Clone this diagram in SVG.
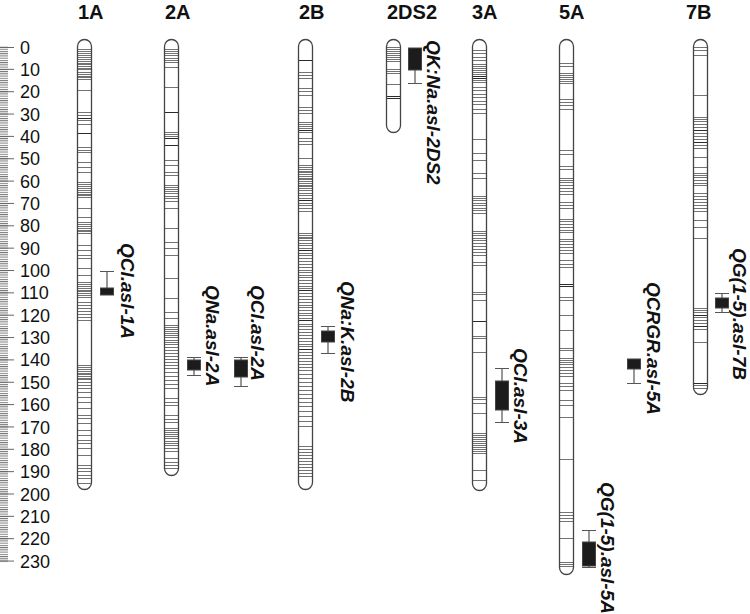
<svg xmlns="http://www.w3.org/2000/svg" width="750" height="614" viewBox="0 0 750 614">
<style>
.ttl{font-family:"Liberation Sans",Arial,sans-serif;font-weight:bold;font-size:20px;fill:#111}
.ax{font-family:"Liberation Sans",Arial,sans-serif;font-size:18px;fill:#111}
.ql{font-family:"Liberation Sans",Arial,sans-serif;font-weight:bold;font-style:italic;font-size:19px;fill:#111}
.chr{fill:none;stroke:#444;stroke-width:1.3}
.bg{fill:#fff}
.b{stroke:#737373;stroke-width:1;fill:none}
.d{stroke:#2a2a2a;stroke-width:1.2;fill:none}
.wh{stroke:#555;stroke-width:1.2;fill:none}
.box{fill:#1c1c1c;stroke:#444;stroke-width:1}
.tk{stroke:#666;stroke-width:1;fill:none}
</style>
<defs>
<pattern id="mt" x="0" y="46.5" width="10" height="2.235" patternUnits="userSpaceOnUse"><rect x="0" y="0" width="8" height="1" fill="#777"/></pattern>
</defs>
<g id="axis">
<rect x="0" y="46.5" width="8" height="516" fill="url(#mt)"/>
<path class="tk" d="M0 47.5h14M0 69.35h14M0 91.7h14M0 114.05h14M0 136.4h14M0 158.75h14M0 181.1h14M0 203.45h14M0 225.8h14M0 248.15h14M0 270.5h14M0 292.85h14M0 315.2h14M0 337.55h14M0 359.9h14M0 382.25h14M0 404.6h14M0 426.95h14M0 449.3h14M0 471.65h14M0 494h14M0 516.35h14M0 538.7h14M0 561.05h14"/>
<text class="ax" x="20" y="53.5">0</text>
<text class="ax" x="20" y="75.9">10</text>
<text class="ax" x="20" y="98.2">20</text>
<text class="ax" x="20" y="120.6">30</text>
<text class="ax" x="20" y="142.9">40</text>
<text class="ax" x="20" y="165.3">50</text>
<text class="ax" x="20" y="187.6">60</text>
<text class="ax" x="20" y="210">70</text>
<text class="ax" x="20" y="232.3">80</text>
<text class="ax" x="20" y="254.7">90</text>
<text class="ax" x="20" y="277">100</text>
<text class="ax" x="20" y="299.4">110</text>
<text class="ax" x="20" y="321.7">120</text>
<text class="ax" x="20" y="344.1">130</text>
<text class="ax" x="20" y="366.4">140</text>
<text class="ax" x="20" y="388.8">150</text>
<text class="ax" x="20" y="411.1">160</text>
<text class="ax" x="20" y="433.5">170</text>
<text class="ax" x="20" y="455.8">180</text>
<text class="ax" x="20" y="478.2">190</text>
<text class="ax" x="20" y="500.5">200</text>
<text class="ax" x="20" y="522.9">210</text>
<text class="ax" x="20" y="545.2">220</text>
<text class="ax" x="20" y="567.6">230</text>
</g>
<g id="chr-1A">
<text class="ttl" x="78" y="19">1A</text>
<rect class="bg" x="77.5" y="39.5" width="14" height="450" rx="7"/>
<path class="b" d="M78 49.5h13M78 51.5h13M78 53.5h13M78 55.5h13M78 57.5h13M78 59.5h13M78 61.5h13M78 63.5h13M78 64.5h13M78 66.5h13M78 68.5h13M78 69.5h13M78 72.5h13M78 74.5h13M78 76.5h13M78 77.5h13M78 79.5h13M78 90.5h13M78 112.5h13M78 115.5h13M78 120.5h13M78 124.5h13M78 147.5h13M78 150.5h13M78 152.5h13M78 162.5h13M78 167.5h13M78 172.5h13M78 182.5h13M78 184.5h13M78 186.5h13M78 188.5h13M78 190.5h13M78 192.5h13M78 194.5h13M78 195.5h13M78 197.5h13M78 208.5h13M78 217.5h13M78 222.5h13M78 224.5h13M78 226.5h13M78 228.5h13M78 230.5h13M78 231.5h13M78 233.5h13M78 245.5h13M78 250.5h13M78 255.5h13M78 258.5h13M78 268.5h13M78 275.5h13M78 282.5h13M78 284.5h13M78 286.5h13M78 288.5h13M78 290.5h13M78 291.5h13M78 293.5h13M78 295.5h13M78 297.5h13M78 302.5h13M78 305.5h13M78 308.5h13M78 311.5h13M78 314.5h13M78 317.5h13M78 320.5h13M78 365.5h13M78 367.5h13M78 369.5h13M78 371.5h13M78 373.5h13M78 374.5h13M78 376.5h13M78 378.5h13M78 379.5h13M78 382.5h13M78 385.5h13M78 388.5h13M78 392.5h13M78 397.5h13M78 402.5h13M78 408.5h13M78 415.5h13M78 418.5h13M78 423.5h13M78 430.5h13M78 435.5h13M78 440.5h13M78 443.5h13M78 448.5h13M78 455.5h13M78 465.5h13M78 468.5h13M78 471.5h13M78 475.5h13M78 478.5h13M78 483.5h13"/>
<path class="d" d="M78 118.5h13M78 133.5h13"/>
<rect class="chr" x="77.5" y="39.5" width="14" height="450" rx="7"/>
</g>
<g id="chr-2A">
<text class="ttl" x="165" y="19">2A</text>
<rect class="bg" x="164.5" y="39.5" width="14" height="436" rx="7"/>
<path class="b" d="M165 49.5h13M165 51.5h13M165 53.5h13M165 55.5h13M165 58.5h13M165 60.5h13M165 62.5h13M165 67.5h13M165 87.5h13M165 132.5h13M165 134.5h13M165 136.5h13M165 160.5h13M165 165.5h13M165 172.5h13M165 175.5h13M165 185.5h13M165 187.5h13M165 189.5h13M165 191.5h13M165 193.5h13M165 196.5h13M165 198.5h13M165 201.5h13M165 208.5h13M165 228.5h13M165 242.5h13M165 248.5h13M165 255.5h13M165 278.5h13M165 298.5h13M165 312.5h13M165 318.5h13M165 325.5h13M165 327.5h13M165 329.5h13M165 331.5h13M165 333.5h13M165 335.5h13M165 337.5h13M165 340.5h13M165 342.5h13M165 344.5h13M165 347.5h13M165 350.5h13M165 353.5h13M165 356.5h13M165 359.5h13M165 362.5h13M165 365.5h13M165 368.5h13M165 372.5h13M165 376.5h13M165 380.5h13M165 384.5h13M165 388.5h13M165 398.5h13M165 402.5h13M165 405.5h13M165 415.5h13M165 419.5h13M165 422.5h13M165 428.5h13M165 430.5h13M165 432.5h13M165 434.5h13M165 436.5h13M165 438.5h13M165 441.5h13M165 443.5h13M165 445.5h13M165 448.5h13M165 451.5h13M165 458.5h13M165 462.5h13M165 465.5h13M165 468.5h13"/>
<path class="d" d="M165 112.5h13M165 138.5h13M165 145.5h13"/>
<rect class="chr" x="164.5" y="39.5" width="14" height="436" rx="7"/>
</g>
<g id="chr-2B">
<text class="ttl" x="299" y="19">2B</text>
<rect class="bg" x="298.5" y="39.5" width="14" height="450" rx="7"/>
<path class="b" d="M299 72.5h13M299 75.5h13M299 78.5h13M299 88.5h13M299 91.5h13M299 95.5h13M299 107.5h13M299 110.5h13M299 113.5h13M299 122.5h13M299 124.5h13M299 126.5h13M299 128.5h13M299 132.5h13M299 138.5h13M299 141.5h13M299 144.5h13M299 158.5h13M299 165.5h13M299 167.5h13M299 169.5h13M299 171.5h13M299 172.5h13M299 174.5h13M299 176.5h13M299 178.5h13M299 179.5h13M299 181.5h13M299 183.5h13M299 185.5h13M299 186.5h13M299 188.5h13M299 190.5h13M299 193.5h13M299 195.5h13M299 198.5h13M299 203.5h13M299 205.5h13M299 208.5h13M299 211.5h13M299 233.5h13M299 235.5h13M299 237.5h13M299 238.5h13M299 240.5h13M299 243.5h13M299 245.5h13M299 248.5h13M299 253.5h13M299 255.5h13M299 258.5h13M299 261.5h13M299 264.5h13M299 267.5h13M299 270.5h13M299 272.5h13M299 275.5h13M299 277.5h13M299 280.5h13M299 283.5h13M299 286.5h13M299 288.5h13M299 293.5h13M299 296.5h13M299 299.5h13M299 302.5h13M299 305.5h13M299 307.5h13M299 310.5h13M299 313.5h13M299 315.5h13M299 318.5h13M299 324.5h13M299 326.5h13M299 329.5h13M299 332.5h13M299 335.5h13M299 338.5h13M299 341.5h13M299 344.5h13M299 346.5h13M299 352.5h13M299 355.5h13M299 358.5h13M299 361.5h13M299 364.5h13M299 367.5h13M299 370.5h13M299 374.5h13M299 378.5h13M299 382.5h13M299 386.5h13M299 390.5h13M299 394.5h13M299 398.5h13M299 402.5h13M299 406.5h13M299 411.5h13M299 416.5h13M299 421.5h13M299 426.5h13M299 446.5h13M299 449.5h13M299 452.5h13M299 455.5h13M299 458.5h13M299 461.5h13M299 464.5h13M299 467.5h13M299 470.5h13M299 473.5h13M299 476.5h13"/>
<path class="d" d="M299 60.5h13M299 130.5h13M299 200.5h13M299 250.5h13M299 290.5h13M299 320.5h13M299 349.5h13"/>
<rect class="chr" x="298.5" y="39.5" width="14" height="450" rx="7"/>
</g>
<g id="chr-2DS2">
<text class="ttl" x="387" y="19">2DS2</text>
<rect class="bg" x="386.5" y="39.5" width="14" height="93" rx="7"/>
<path class="b" d="M387 47.5h13M387 49.5h13M387 51.5h13M387 53.5h13M387 55.5h13M387 57.5h13M387 59.5h13M387 61.5h13M387 69.5h13M387 71.5h13M387 73.5h13M387 84.5h13"/>
<path class="d" d="M387 96.5h13M387 98.5h13"/>
<rect class="chr" x="386.5" y="39.5" width="14" height="93" rx="7"/>
</g>
<g id="chr-3A">
<text class="ttl" x="472" y="19">3A</text>
<rect class="bg" x="472.5" y="39.5" width="14" height="451" rx="7"/>
<path class="b" d="M473 50.5h13M473 53.5h13M473 57.5h13M473 60.5h13M473 64.5h13M473 66.5h13M473 68.5h13M473 70.5h13M473 72.5h13M473 74.5h13M473 80.5h13M473 82.5h13M473 87.5h13M473 90.5h13M473 94.5h13M473 97.5h13M473 101.5h13M473 104.5h13M473 109.5h13M473 113.5h13M473 139.5h13M473 153.5h13M473 160.5h13M473 173.5h13M473 178.5h13M473 196.5h13M473 198.5h13M473 200.5h13M473 203.5h13M473 205.5h13M473 208.5h13M473 210.5h13M473 213.5h13M473 231.5h13M473 233.5h13M473 235.5h13M473 238.5h13M473 240.5h13M473 243.5h13M473 246.5h13M473 249.5h13M473 252.5h13M473 255.5h13M473 262.5h13M473 265.5h13M473 292.5h13M473 294.5h13M473 300.5h13M473 336.5h13M473 338.5h13M473 352.5h13M473 397.5h13M473 399.5h13M473 403.5h13M473 413.5h13M473 433.5h13M473 435.5h13M473 437.5h13M473 439.5h13M473 441.5h13M473 443.5h13M473 445.5h13M473 447.5h13M473 449.5h13M473 451.5h13M473 453.5h13M473 470.5h13M473 480.5h13"/>
<path class="d" d="M473 76.5h13M473 78.5h13M473 321.5h13"/>
<rect class="chr" x="472.5" y="39.5" width="14" height="451" rx="7"/>
</g>
<g id="chr-5A">
<text class="ttl" x="559" y="19">5A</text>
<rect class="bg" x="559.5" y="39.5" width="14" height="535" rx="7"/>
<path class="b" d="M560 63.5h13M560 66.5h13M560 73.5h13M560 75.5h13M560 77.5h13M560 79.5h13M560 81.5h13M560 83.5h13M560 99.5h13M560 102.5h13M560 105.5h13M560 109.5h13M560 150.5h13M560 154.5h13M560 166.5h13M560 169.5h13M560 178.5h13M560 180.5h13M560 182.5h13M560 185.5h13M560 188.5h13M560 191.5h13M560 194.5h13M560 202.5h13M560 205.5h13M560 208.5h13M560 219.5h13M560 221.5h13M560 224.5h13M560 227.5h13M560 230.5h13M560 232.5h13M560 239.5h13M560 241.5h13M560 244.5h13M560 247.5h13M560 250.5h13M560 253.5h13M560 260.5h13M560 264.5h13M560 267.5h13M560 297.5h13M560 300.5h13M560 315.5h13M560 330.5h13M560 348.5h13M560 350.5h13M560 358.5h13M560 360.5h13M560 362.5h13M560 364.5h13M560 367.5h13M560 370.5h13M560 373.5h13M560 376.5h13M560 383.5h13M560 386.5h13M560 390.5h13M560 400.5h13M560 405.5h13M560 417.5h13M560 459.5h13M560 512.5h13M560 515.5h13M560 518.5h13M560 521.5h13M560 538.5h13M560 562.5h13M560 564.5h13M560 566.5h13"/>
<path class="d" d="M560 284.5h13M560 286.5h13"/>
<rect class="chr" x="559.5" y="39.5" width="14" height="535" rx="7"/>
</g>
<g id="chr-7B">
<text class="ttl" x="686" y="19">7B</text>
<rect class="bg" x="693.5" y="39.5" width="14" height="355" rx="7"/>
<path class="b" d="M694 47.5h13M694 50.5h13M694 55.5h13M694 95.5h13M694 117.5h13M694 119.5h13M694 121.5h13M694 124.5h13M694 127.5h13M694 133.5h13M694 136.5h13M694 139.5h13M694 145.5h13M694 148.5h13M694 157.5h13M694 167.5h13M694 173.5h13M694 175.5h13M694 177.5h13M694 180.5h13M694 183.5h13M694 185.5h13M694 193.5h13M694 196.5h13M694 199.5h13M694 202.5h13M694 205.5h13M694 208.5h13M694 211.5h13M694 220.5h13M694 227.5h13M694 238.5h13M694 308.5h13M694 310.5h13M694 312.5h13M694 317.5h13M694 320.5h13M694 323.5h13M694 329.5h13M694 342.5h13M694 385.5h13M694 388.5h13"/>
<path class="d" d="M694 130.5h13M694 142.5h13M694 315.5h13M694 326.5h13M694 383.5h13"/>
<rect class="chr" x="693.5" y="39.5" width="14" height="355" rx="7"/>
</g>
<g id="qtl-QCl-1A">
<path class="wh" d="M100 271.5h14M107 271.5V288"/>
<rect class="box" x="100.5" y="288" width="13" height="7"/>
<text class="ql" transform="translate(121,243) rotate(90)">QCl.asl-1A</text>
</g>
<g id="qtl-QNa-2A">
<path class="wh" d="M187 357.5h14M187 375.5h14M194 357.5V375.5"/>
<rect class="box" x="187.5" y="360" width="13" height="10"/>
<text class="ql" transform="translate(206,285) rotate(90)">QNa.asl-2A</text>
</g>
<g id="qtl-QCl-2A">
<path class="wh" d="M234 357.5h14M234 386.5h14M241 357.5V386.5"/>
<rect class="box" x="234.5" y="360" width="13" height="17"/>
<text class="ql" transform="translate(251,285) rotate(90)">QCl.asl-2A</text>
</g>
<g id="qtl-QNaK-2B">
<path class="wh" d="M321 326.5h14M321 353.5h14M328 326.5V353.5"/>
<rect class="box" x="321.5" y="331" width="13" height="11"/>
<text class="ql" transform="translate(341,281) rotate(90)">QNa:K.asl-2B</text>
</g>
<g id="qtl-QKNa-2DS2">
<path class="wh" d="M408 83.5h14M415 70V83.5"/>
<rect class="box" x="408.5" y="48" width="13" height="22"/>
<text class="ql" transform="translate(427,40) rotate(90)">QK:Na.asl-2DS2</text>
</g>
<g id="qtl-QCl-3A">
<path class="wh" d="M495 368.5h14M495 422.5h14M502 368.5V422.5"/>
<rect class="box" x="495.5" y="381" width="13" height="29"/>
<text class="ql" transform="translate(514,348) rotate(90)">QCl.asl-3A</text>
</g>
<g id="qtl-QCRGR-5A">
<path class="wh" d="M627 383.5h14M634 369V383.5"/>
<rect class="box" x="627.5" y="359" width="13" height="10"/>
<text class="ql" transform="translate(647,282) rotate(90)">QCRGR.asl-5A</text>
</g>
<g id="qtl-QG-5A">
<path class="wh" d="M582 530.5h14M582 567.5h14M589 530.5V567.5"/>
<rect class="box" x="582.5" y="542" width="13" height="24"/>
<text class="ql" transform="translate(601,482) rotate(90)">QG(1-5).asl-5A</text>
</g>
<g id="qtl-QG-7B">
<path class="wh" d="M715 293.5h14M715 312.5h14M722 293.5V312.5"/>
<rect class="box" x="715.5" y="298" width="13" height="10"/>
<text class="ql" transform="translate(733,248) rotate(90)">QG(1-5).asl-7B</text>
</g>
</svg>
